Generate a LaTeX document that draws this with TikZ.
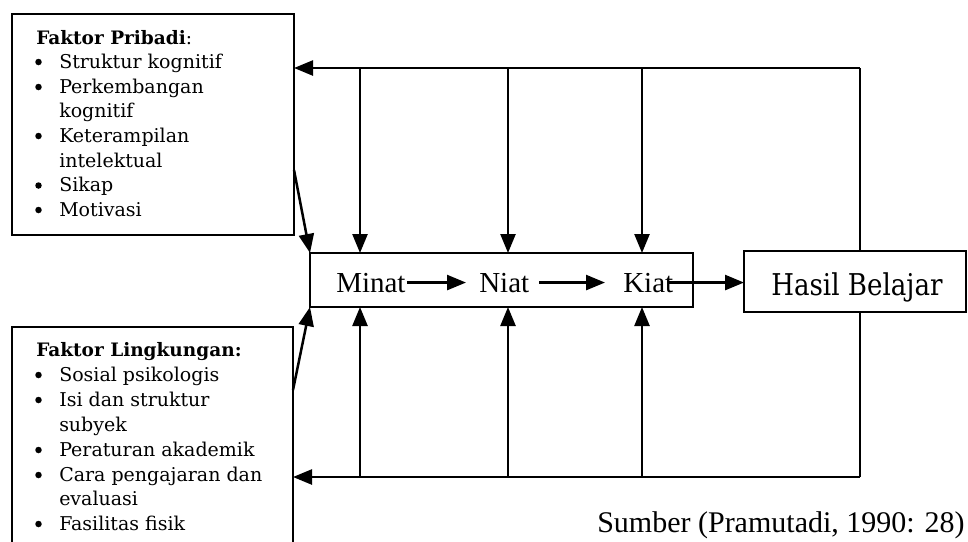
\documentclass[tikz,border=0pt]{standalone}
\usepackage{fontspec}
\setmainfont{Liberation Serif}
\newfontfamily\boxfont{DejaVu Serif}
\newfontfamily\hasilfont[FakeStretch=0.87]{DejaVu Serif}
\usetikzlibrary{arrows.meta}

\begin{document}
\begin{tikzpicture}[x=1pt,y=-1pt,
  line width=2.5pt,
  arr/.style={-{Triangle[length=19pt,width=15pt]}},
  box/.style={draw, line width=2.6pt, inner sep=0pt, outer sep=0pt},
  item/.style={anchor=base west, inner sep=0pt, font=\boxfont\fontsize{19}{19}\selectfont},
  head/.style={anchor=base west, inner sep=0pt, font=\boxfont\bfseries\fontsize{18.5}{18.5}\selectfont},
  dot/.style={circle, fill, inner sep=0pt, minimum size=6.5pt},
  big/.style={anchor=base west, inner sep=0pt, font=\fontsize{29}{29}\selectfont},
]
\useasboundingbox (0,0) rectangle (968,541);
\clip (0,0) rectangle (968,541);

% boxes
\node[box, minimum width=282pt, minimum height=221pt] (pribadi) at (153,124.5) {};
\node[box, minimum width=281pt, minimum height=240pt] (lingkungan) at (152.5,447) {};
\node[box, minimum width=383pt, minimum height=54pt] (chain) at (501.5,280) {};
\node[box, minimum width=222pt, minimum height=61pt] (hasil) at (855,281.5) {};

% chain text
\node[big] (minat) at (335,292) {Minat};
\node[big] (niat) at (478,292) {Niat};
\node[big] (kiat) at (622,292) {Kiat};
\node[anchor=base west, inner sep=0pt, font=\hasilfont\fontsize{30}{30}\selectfont] (hasiltext) at (770,295) {Hasil Belajar};

\draw[arr] (minat.east) -- ([xshift=-12pt]niat.west);
\draw[arr] ([xshift=9pt]niat.east) -- ([xshift=-17pt]kiat.west);
\draw[arr] ([xshift=-5pt]kiat.east) -- (hasil.west |- kiat.east);

% feedback lines
\coordinate (tr) at (860,68);
\coordinate (br) at (860,477);
\coordinate (t1) at (360,68);
\coordinate (t2) at (508,68);
\coordinate (t3) at (642,68);
\coordinate (b1) at (360,477);
\coordinate (b2) at (508,477);
\coordinate (b3) at (642,477);
\draw (hasil.north -| tr) -- (tr);
\draw[arr] (tr) -- (pribadi.east |- tr);
\draw[arr] (t1) -- (t1 |- chain.north);
\draw[arr] (t2) -- (t2 |- chain.north);
\draw[arr] (t3) -- (t3 |- chain.north);
\draw (hasil.south -| br) -- (br);
\draw[arr] (br) -- (lingkungan.east |- br);
\draw[arr] (b1) -- (b1 |- chain.south);
\draw[arr] (b2) -- (b2 |- chain.south);
\draw[arr] (b3) -- (b3 |- chain.south);

% diagonals
\draw[arr] ([yshift=65pt]pribadi.south east) -- (chain.north west);
\draw[arr] ([yshift=-63pt]lingkungan.north east) -- (chain.south west);

% Faktor Pribadi
\node[head] (ph) at (35,44) {Faktor Pribadi\textmd{:}};
\node[dot] (pd1) at (38.5,62) {};
\node[item] (p1) at (58,68.6) {Struktur kognitif};
\node[dot] (pd2) at (38.5,87) {};
\node[item] (p2) at (58,93.2) {Perkembangan};
\node[item] (p3) at (58,117.8) {kognitif};
\node[dot] (pd3) at (38.5,136) {};
\node[item] (p4) at (58,142.4) {Keterampilan};
\node[item] (p5) at (58,167) {intelektual};
\node[dot] (pd4) at (38.5,185.5) {};
\node[item] (p6) at (58,191.6) {Sikap};
\node[dot] (pd5) at (38.5,210) {};
\node[item] (p7) at (58,216.2) {Motivasi};

% Faktor Lingkungan
\node[head] (lh) at (35,356) {Faktor Lingkungan:};
\node[dot] (ld1) at (38.5,375) {};
\node[item] (l1) at (58,381) {Sosial psikologis};
\node[dot] (ld2) at (38.5,400) {};
\node[item] (l2) at (58,406) {Isi dan struktur};
\node[item] (l3) at (58,431) {subyek};
\node[dot] (ld3) at (38.5,450) {};
\node[item] (l4) at (58,456) {Peraturan akademik};
\node[dot] (ld4) at (38.5,475) {};
\node[item] (l5) at (58,481) {Cara pengajaran dan};
\node[item] (l6) at (58,505) {evaluasi};
\node[dot] (ld5) at (38.5,524) {};
\node[item] (l7) at (58,530) {Fasilitas fisik};

% source
\node[anchor=base west, inner sep=0pt, font=\fontsize{30}{30}\selectfont] (sumber) at (596,532) {Sumber (Pramutadi, 1990: 28)};
\end{tikzpicture}
\end{document}
